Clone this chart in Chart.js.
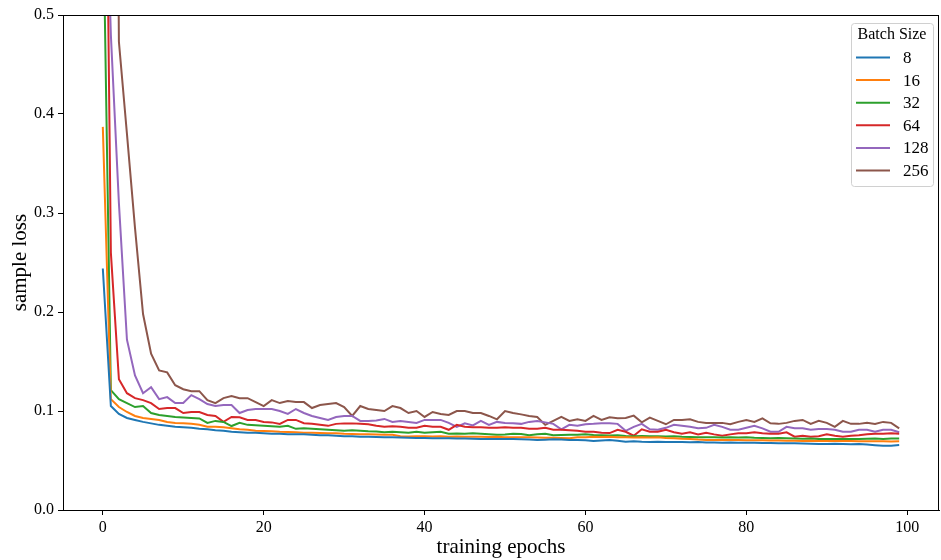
<!DOCTYPE html>
<html>
<head>
<meta charset="utf-8">
<script src="https://cdn.jsdelivr.net/npm/chart.js@4.4.0/dist/chart.umd.min.js"></script>
<style>
  html, body { margin: 0; padding: 0; background: #fff; }
</style>
</head>
<body>
<canvas id="lossChart" width="941" height="560"></canvas>
<script>
// epochs 0..99
const epochs = Array.from({ length: 100 }, (_, i) => i);

const batchSizes = ['8', '16', '32', '64', '128', '256'];
const xTicks = [0, 20, 40, 60, 80, 100];
const yTicks = [0.0, 0.1, 0.2, 0.3, 0.4, 0.5];

const loss8 = [
  0.244, 0.105, 0.097, 0.093, 0.091, 0.089, 0.0875, 0.086, 0.085, 0.084,
  0.0835, 0.083, 0.082, 0.0815, 0.0805, 0.080, 0.079, 0.0785, 0.078, 0.078,
  0.0775, 0.077, 0.077, 0.0765, 0.0765, 0.0765, 0.076, 0.0755, 0.0754, 0.075,
  0.0745, 0.0745, 0.074, 0.074, 0.0738, 0.0736, 0.0734, 0.0732, 0.073, 0.0728,
  0.0728, 0.0725, 0.0726, 0.0724, 0.0722, 0.0722, 0.072, 0.0718, 0.0717, 0.0718,
  0.0716, 0.0717, 0.0714, 0.0712, 0.0707, 0.071, 0.0714, 0.0711, 0.0708, 0.0706,
  0.0704, 0.0697, 0.0703, 0.0707, 0.070, 0.069, 0.0695, 0.069, 0.0688, 0.069,
  0.0687, 0.0688, 0.0686, 0.0684, 0.0686, 0.0682, 0.0683, 0.068, 0.0681, 0.068,
  0.068, 0.0679, 0.0677, 0.0676, 0.0675, 0.0675, 0.0673, 0.0672, 0.0669, 0.0667,
  0.0667, 0.0668, 0.0666, 0.0665, 0.0666, 0.0662, 0.0655, 0.0648, 0.065, 0.0656
];

const loss16 = [
  0.387, 0.112, 0.104, 0.099, 0.095, 0.093, 0.092, 0.091, 0.089, 0.088,
  0.0876, 0.087, 0.086, 0.084, 0.084, 0.0835, 0.0825, 0.0815, 0.081, 0.080,
  0.0798, 0.0795, 0.079, 0.0788, 0.0785, 0.078, 0.078, 0.0778, 0.0775, 0.0775,
  0.077, 0.0768, 0.0765, 0.0765, 0.0762, 0.076, 0.076, 0.0745, 0.0742, 0.0745,
  0.0746, 0.0743, 0.0745, 0.0741, 0.0742, 0.074, 0.0741, 0.074, 0.0738, 0.0739,
  0.0736, 0.0735, 0.0734, 0.0734, 0.0732, 0.0731, 0.073, 0.0728, 0.0726, 0.0734,
  0.0736, 0.074, 0.0738, 0.074, 0.0736, 0.0734, 0.0733, 0.0734, 0.0732, 0.0734,
  0.0728, 0.0725, 0.072, 0.0718, 0.0712, 0.0708, 0.0707, 0.0707, 0.0706, 0.0706,
  0.0705, 0.0704, 0.0705, 0.0703, 0.0702, 0.070, 0.0699, 0.0698, 0.070, 0.0698,
  0.0697, 0.0697, 0.0696, 0.0697, 0.0695, 0.0694, 0.0695, 0.0694, 0.0693, 0.0694
];

const loss32 = [
  0.626, 0.121, 0.112, 0.108, 0.104, 0.105, 0.098, 0.096, 0.095, 0.094,
  0.0935, 0.093, 0.0925, 0.088, 0.090, 0.089, 0.0848, 0.088, 0.086, 0.0855,
  0.085, 0.0845, 0.084, 0.085, 0.082, 0.0825, 0.082, 0.0815, 0.081, 0.0805,
  0.080, 0.0805, 0.080, 0.0795, 0.0792, 0.0785, 0.079, 0.0785, 0.078, 0.079,
  0.078, 0.0785, 0.079, 0.077, 0.0772, 0.077, 0.0775, 0.077, 0.0765, 0.076,
  0.0762, 0.077, 0.0768, 0.0755, 0.0765, 0.077, 0.0755, 0.0758, 0.076, 0.076,
  0.0764, 0.0758, 0.0755, 0.0752, 0.0755, 0.0748, 0.0745, 0.0748, 0.0744, 0.0745,
  0.0742, 0.0745, 0.074, 0.0738, 0.0735, 0.0736, 0.0734, 0.0733, 0.0735, 0.0732,
  0.0734, 0.073, 0.0728, 0.0725, 0.0727, 0.0724, 0.0722, 0.072, 0.0721, 0.0718,
  0.0717, 0.0718, 0.0716, 0.0718, 0.0717, 0.072, 0.0722, 0.0718, 0.0721, 0.0722
];

const loss64 = [
  1.0, 0.26, 0.132, 0.118, 0.113, 0.111, 0.108, 0.102, 0.103, 0.103,
  0.098, 0.099, 0.099, 0.096, 0.095, 0.089, 0.094, 0.0936, 0.091, 0.091,
  0.089, 0.0885, 0.087, 0.091, 0.091, 0.0876, 0.087, 0.086, 0.085, 0.087,
  0.0875, 0.0875, 0.087, 0.0865, 0.085, 0.084, 0.0845, 0.084, 0.083, 0.083,
  0.085, 0.084, 0.084, 0.081, 0.086, 0.084, 0.0835, 0.0835, 0.083, 0.083,
  0.0835, 0.083, 0.083, 0.082, 0.082, 0.083, 0.081, 0.081, 0.0805, 0.080,
  0.079, 0.079, 0.078, 0.0777, 0.081, 0.079, 0.075, 0.0815, 0.079, 0.079,
  0.081, 0.0785, 0.077, 0.0785, 0.0764, 0.078, 0.0764, 0.075, 0.0764, 0.0775,
  0.0775, 0.0785, 0.0775, 0.077, 0.077, 0.0785, 0.074, 0.075, 0.074, 0.0745,
  0.0764, 0.075, 0.074, 0.075, 0.0755, 0.0764, 0.077, 0.077, 0.0775, 0.077
];

const loss128 = [
  0.75, 0.48, 0.31, 0.172, 0.136, 0.118, 0.124, 0.112, 0.114, 0.108,
  0.108, 0.116, 0.112, 0.107, 0.105, 0.106, 0.106, 0.098, 0.101, 0.102,
  0.102, 0.102, 0.100, 0.097, 0.102, 0.098, 0.095, 0.093, 0.091, 0.094,
  0.095, 0.095, 0.090, 0.090, 0.0905, 0.092, 0.089, 0.090, 0.089, 0.088,
  0.091, 0.091, 0.091, 0.088, 0.084, 0.0876, 0.0855, 0.090, 0.086, 0.089,
  0.088, 0.0876, 0.087, 0.089, 0.090, 0.0885, 0.087, 0.0815, 0.086, 0.085,
  0.0866, 0.087, 0.0876, 0.0876, 0.087, 0.080, 0.084, 0.087, 0.0815, 0.081,
  0.083, 0.086, 0.085, 0.084, 0.0825, 0.083, 0.086, 0.084, 0.081, 0.081,
  0.083, 0.085, 0.0825, 0.079, 0.079, 0.084, 0.0825, 0.0825, 0.081, 0.0818,
  0.0818, 0.081, 0.079, 0.079, 0.081, 0.081, 0.079, 0.081, 0.081, 0.0785
];

const loss256 = [
  2.4, 1.6, 0.473, 0.38, 0.285, 0.198, 0.158, 0.141, 0.139, 0.126,
  0.122, 0.120, 0.120, 0.111, 0.108, 0.113, 0.115, 0.113, 0.113, 0.109,
  0.105, 0.111, 0.108, 0.110, 0.109, 0.109, 0.103, 0.106, 0.107, 0.108,
  0.104, 0.095, 0.105, 0.102, 0.101, 0.100, 0.105, 0.103, 0.098, 0.100,
  0.094, 0.099, 0.097, 0.096, 0.100, 0.100, 0.098, 0.098, 0.095, 0.0916,
  0.100, 0.098, 0.0966, 0.095, 0.094, 0.086, 0.090, 0.094, 0.090, 0.0916,
  0.090, 0.095, 0.091, 0.0936, 0.0926, 0.093, 0.0953, 0.0886, 0.0933, 0.090,
  0.0866, 0.091, 0.091, 0.0916, 0.089, 0.088, 0.088, 0.088, 0.0866, 0.089,
  0.091, 0.089, 0.0926, 0.0876, 0.087, 0.088, 0.090, 0.091, 0.087, 0.090,
  0.088, 0.084, 0.090, 0.087, 0.087, 0.088, 0.087, 0.089, 0.088, 0.0825
];

const seriesValues = [loss8, loss16, loss32, loss64, loss128, loss256];
const colors = ['#1f77b4', '#ff7f0e', '#2ca02c', '#d62728', '#9467bd', '#8c564b'];
const serif = "'Liberation Serif', 'Times New Roman', serif";

const datasets = batchSizes.map((label, i) => ({
  label: label,
  data: epochs.map((e, j) => ({ x: e, y: seriesValues[i][j] })),
  borderColor: colors[i],
  backgroundColor: colors[i],
  borderWidth: 2,
  pointRadius: 0,
  tension: 0,
  fill: false
}));

// matplotlib style box around the axes
const axesFrame = {
  id: 'axesFrame',
  afterDatasetsDraw(chart) {
    const { ctx, chartArea: a } = chart;
    ctx.save();
    ctx.strokeStyle = '#000';
    ctx.lineWidth = 1;
    ctx.strokeRect(a.left + 0.5, a.top + 0.5, a.right - a.left - 1, a.bottom - a.top);
    ctx.restore();
  }
};

// legend box with title, top right inside the plot
const legendBox = {
  id: 'legendBox',
  afterDraw(chart) {
    const { ctx, chartArea: a } = chart;
    const w = 82, h = 163;
    const x = a.right - 6 - w, y = a.top + 8;
    ctx.save();
    ctx.beginPath();
    ctx.roundRect(x + 0.5, y + 0.5, w, h, 3);
    ctx.fillStyle = 'rgba(255,255,255,0.8)';
    ctx.fill();
    ctx.strokeStyle = '#d0d0d0';
    ctx.lineWidth = 1;
    ctx.stroke();

    ctx.fillStyle = '#000';
    ctx.font = '16px ' + serif;
    ctx.textAlign = 'center';
    ctx.textBaseline = 'middle';
    ctx.fillText('Batch Size', x + w / 2, y + 12);

    ctx.font = '17px ' + serif;
    ctx.textAlign = 'left';
    chart.data.datasets.forEach((ds, i) => {
      const ry = y + 34.5 + i * 22.6;
      ctx.strokeStyle = ds.borderColor;
      ctx.lineWidth = 2;
      ctx.beginPath();
      ctx.moveTo(x + 5, ry);
      ctx.lineTo(x + 39, ry);
      ctx.stroke();
      ctx.fillStyle = '#000';
      ctx.fillText(ds.label, x + 52, ry + 1);
    });
    ctx.restore();
  }
};

const ctx = document.getElementById('lossChart').getContext('2d');
const chart = new Chart(ctx, {
  type: 'line',
  data: { datasets },
  plugins: [axesFrame, legendBox],
  options: {
    responsive: false,
    animation: false,
    layout: { padding: { top: 15, right: 2, left: 0, bottom: 0 } },
    plugins: {
      legend: { display: false },
      tooltip: { enabled: false }
    },
    scales: {
      x: {
        type: 'linear',
        min: -4.95,
        max: 103.95,
        afterBuildTicks: s => { s.ticks = xTicks.map(v => ({ value: v })); },
        afterFit: s => { s.height = 50; },
        grid: { drawOnChartArea: false, tickLength: 5, color: '#000' },
        border: { color: '#000' },
        ticks: {
          color: '#000',
          font: { family: serif, size: 16 },
          padding: 3,
          maxRotation: 0,
          callback: v => String(v)
        },
        title: {
          display: true,
          text: 'training epochs',
          color: '#000',
          font: { family: serif, size: 21 },
          padding: { top: 0, bottom: 0 }
        }
      },
      y: {
        min: 0,
        max: 0.5,
        afterBuildTicks: s => { s.ticks = yTicks.map(v => ({ value: v })); },
        afterFit: s => { s.width = 63; },
        grid: { drawOnChartArea: false, tickLength: 5, color: '#000' },
        border: { color: '#000' },
        ticks: {
          color: '#000',
          font: { family: serif, size: 16 },
          padding: 4,
          callback: v => v.toFixed(1)
        },
        title: {
          display: true,
          text: 'sample loss',
          color: '#000',
          font: { family: serif, size: 21 },
          padding: { top: 8, bottom: 0 }
        }
      }
    }
  }
});
</script>
</body>
</html>
